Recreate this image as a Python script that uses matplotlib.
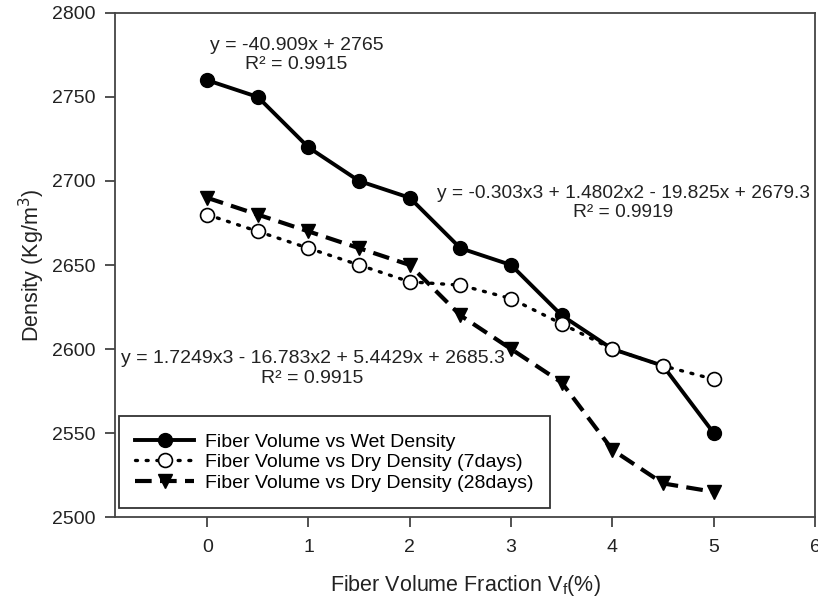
import matplotlib
matplotlib.use("Agg")
import matplotlib.pyplot as plt

plt.rcParams['font.family'] = ['Liberation Sans', 'DejaVu Sans']

# fiber volume fraction (%)
vf = [0, 0.5, 1, 1.5, 2, 2.5, 3, 3.5, 4, 4.5, 5]

wet = [2760, 2750, 2720, 2700, 2690, 2660, 2650, 2620, 2600, 2590, 2550]
dry7 = [2680, 2670, 2660, 2650, 2640, 2638, 2630, 2615, 2600, 2590, 2582]
dry28 = [2690, 2680, 2670, 2660, 2650, 2620, 2600, 2580, 2540, 2520, 2515]

labels = ['Fiber Volume vs Wet Density',
          'Fiber Volume vs Dry Density (7days)',
          'Fiber Volume vs Dry Density (28days)']

eq_wet = 'y = -40.909x + 2765\nR² = 0.9915'
eq_dry7 = 'y = -0.303x3 + 1.4802x2 - 19.825x + 2679.3\nR² = 0.9919'
eq_dry28 = 'y = 1.7249x3 - 16.783x2 + 5.4429x + 2685.3\nR² = 0.9915'

fig = plt.figure(figsize=(8.18, 6.04), dpi=100)
ax = fig.add_axes([0.1406, 0.144, 0.8557, 0.8345])

ax.plot(vf, wet, color='black', lw=2.8, marker='o', ms=10, label=labels[0], zorder=3)
ax.plot(vf, dry7, color='black', lw=2.4, linestyle=(0, (0.6, 2.6)), dash_capstyle='round',
        marker='o', ms=10, markerfacecolor='white', markeredgecolor='black', markeredgewidth=1.2,
        label=labels[1], zorder=4)
ax.plot(vf, dry28, color='black', lw=3, linestyle=(0, (4, 2)), marker='v', ms=10,
        label=labels[2], zorder=2)

txt = dict(ha='center', va='center', fontsize=14, color='#222222', linespacing=1.2)
ax.text(0.88, 2775, eq_wet, **txt)
ax.text(4.11, 2687, eq_dry7, fontsize=13.8, **{k: v for k, v in txt.items() if k != 'fontsize'})
ax.text(1.04, 2588.5, eq_dry28, **txt)

ax.set_xlim(-0.91, 6)
ax.set_ylim(2500, 2800)
ax.set_xticks([0, 1, 2, 3, 4, 5, 6])
ax.set_yticks([2500, 2550, 2600, 2650, 2700, 2750, 2800])
ax.tick_params(direction='out', length=7, width=1.2, labelsize=14, pad=9,
               top=False, right=False, colors='#333333', labelcolor='#222222')
ax.tick_params(axis='y', pad=7)
for s in ax.spines.values():
    s.set_color('#444444')
    s.set_linewidth(1.3)

ax.set_ylabel('Density (Kg/m$^3$)', fontsize=15.5, color='#222222', labelpad=4)
ax.set_xlabel('Fiber Volume Fraction V$_\\mathregular{f}$(%)', fontsize=15.5, color='#222222',
              labelpad=12)

leg = ax.legend(loc='lower left', bbox_to_anchor=(0.0, 0.01), fontsize=14, handlelength=3.0,
                labelspacing=0.15, borderpad=0.85, fancybox=False, framealpha=1,
                edgecolor='#333333', handletextpad=0.6, borderaxespad=0.2)
leg.get_frame().set_linewidth(1.3)

fig.savefig('out.png', dpi=100)
